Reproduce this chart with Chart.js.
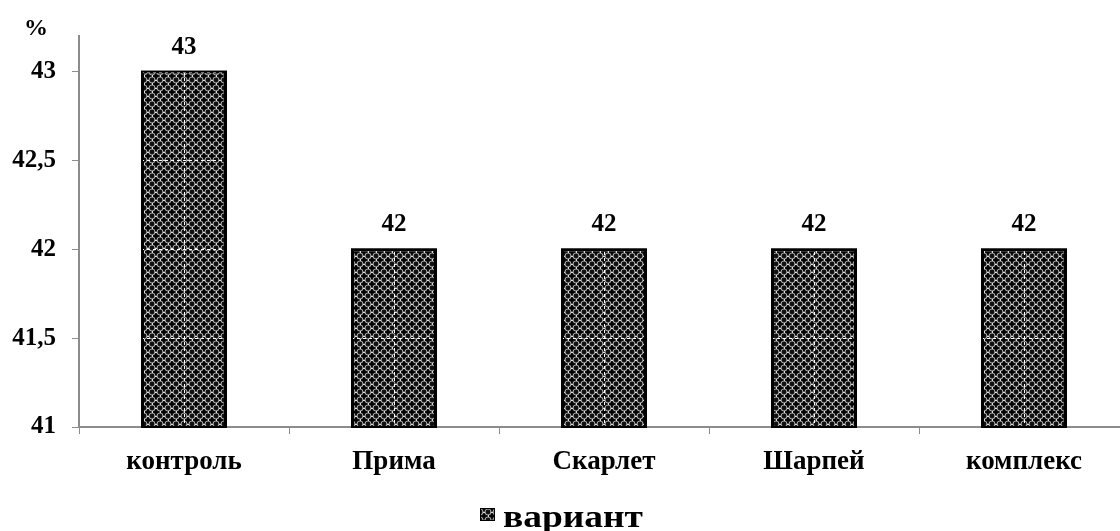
<!DOCTYPE html>
<html>
<head>
<meta charset="utf-8">
<script src="https://cdn.jsdelivr.net/npm/chart.js@4"></script>
<style>
  html, body { margin: 0; padding: 0; background: #fff; overflow: hidden; }
  #wrap { width: 1135px; height: 531px; }
</style>
</head>
<body>
<div id="wrap"><canvas id="chart"></canvas></div>
<script>
const categories = ['контроль', 'Прима', 'Скарлет', 'Шарпей', 'комплекс'];
const values = [43, 42, 42, 42, 42];
const yTicks = [41, 41.5, 42, 42.5, 43];
const seriesName = 'вариант';

const FONT = '"Liberation Serif", "Times New Roman", serif';
const AXIS = '#8c8c8c';

// checkered fill like the office hatch
function makePattern() {
    const c = document.createElement('canvas');
    c.width = 8; c.height = 8;
    const g = c.getContext('2d');
    g.fillStyle = '#111';
    g.fillRect(0, 0, 8, 8);
    g.strokeStyle = '#a8a8a8';
    g.lineWidth = 1.2;
    [[0, 0], [8, 0], [0, 8], [8, 8]].forEach(p => {
        g.beginPath();
        g.arc(p[0], p[1], 3, 0, Math.PI * 2);
        g.stroke();
    });
    g.fillStyle = '#ddd';
    g.fillRect(3, 0, 2, 1);
    g.fillRect(0, 3, 1, 2);
    g.fillStyle = '#000';
    g.fillRect(3, 3, 2, 2);
    g.fillRect(3.5, 1, 1, 6);
    g.fillRect(1, 3.5, 6, 1);
    return g.createPattern(c, 'repeat');
}
const hatch = makePattern();

// extras: % label, value labels, white dashed grid over bars, legend
const extras = {
    id: 'extras',
    afterDatasetsDraw(chart) {
        const ctx = chart.ctx;
        const area = chart.chartArea;
        const xs = chart.scales.x, ys = chart.scales.y;
        const meta = chart.getDatasetMeta(0);
        ctx.save();
        ctx.strokeStyle = '#fff';
        ctx.lineWidth = 1;
        ctx.setLineDash([3, 3]);
        yTicks.slice(1).forEach(v => {
            const y = Math.round(ys.getPixelForValue(v)) + 0.5;
            ctx.beginPath();
            ctx.moveTo(area.left + 2, y);
            ctx.lineTo(area.right, y);
            ctx.stroke();
        });
        categories.forEach((c, i) => {
            const x = Math.round(xs.getPixelForValue(i)) + 0.5;
            ctx.beginPath();
            ctx.moveTo(x, area.top);
            ctx.lineTo(x, area.bottom - 1);
            ctx.stroke();
        });
        ctx.setLineDash([]);
        // bar outlines again, on top of the grid
        ctx.strokeStyle = '#000';
        ctx.lineWidth = 2;
        meta.data.forEach(bar => {
            const w = bar.width;
            const bottom = Math.min(bar.base, area.bottom);
            ctx.strokeRect(bar.x - w / 2, bar.y, w, bottom - bar.y);
        });
        ctx.fillStyle = '#000';
        ctx.font = 'bold 25px ' + FONT;
        ctx.textAlign = 'center';
        ctx.textBaseline = 'alphabetic';
        meta.data.forEach((bar, i) => {
            ctx.fillText(String(values[i]), bar.x, bar.y - 18);
        });
        ctx.font = 'bold 24px ' + FONT;
        ctx.fillText('%', 36, 35);
        // legend (text is a bit stretched in the original)
        ctx.fillStyle = hatch;
        ctx.fillRect(480, 508, 15, 13);
        ctx.strokeStyle = '#000';
        ctx.lineWidth = 1;
        ctx.strokeRect(480.5, 508.5, 14, 12);
        ctx.fillStyle = '#000';
        ctx.font = 'bold 31px ' + FONT;
        ctx.textAlign = 'left';
        const tw = ctx.measureText(seriesName).width;
        ctx.translate(503, 527);
        ctx.scale(140 / tw, 1);
        ctx.fillText(seriesName, 0, 0);
        ctx.restore();
    }
};

new Chart(document.getElementById('chart'), {
    type: 'bar',
    data: {
        labels: categories,
        datasets: [{
            label: seriesName,
            data: values,
            backgroundColor: hatch,
            borderColor: '#000',
            borderWidth: 2,
            borderSkipped: false,
            barPercentage: 0.4,
            categoryPercentage: 1
        }]
    },
    options: {
        responsive: true,
        maintainAspectRatio: false,
        animation: false,
        layout: { padding: { top: 36, right: 6, left: 0, bottom: 0 } },
        plugins: {
            legend: { display: false },
            tooltip: { enabled: false }
        },
        scales: {
            x: {
                grid: {
                    offset: true,
                    drawOnChartArea: false,
                    color: AXIS,
                    tickLength: 7
                },
                border: { color: AXIS, width: 2 },
                ticks: {
                    color: '#000',
                    padding: 12,
                    font: { family: FONT, size: 27, weight: 'bold' }
                },
                afterFit(scale) { scale.height = 104; }
            },
            y: {
                min: 41,
                max: 43.2,
                afterBuildTicks(scale) {
                    scale.ticks = yTicks.map(v => ({ value: v }));
                },
                grid: {
                    drawOnChartArea: false,
                    color: AXIS,
                    tickLength: 7
                },
                border: { color: AXIS, width: 2 },
                ticks: {
                    color: '#000',
                    padding: 16,
                    font: { family: FONT, size: 25, weight: 'bold' },
                    callback: v => String(v).replace('.', ',')
                },
                afterFit(scale) { scale.width = 79; }
            }
        }
    },
    plugins: [extras]
});
</script>
</body>
</html>
